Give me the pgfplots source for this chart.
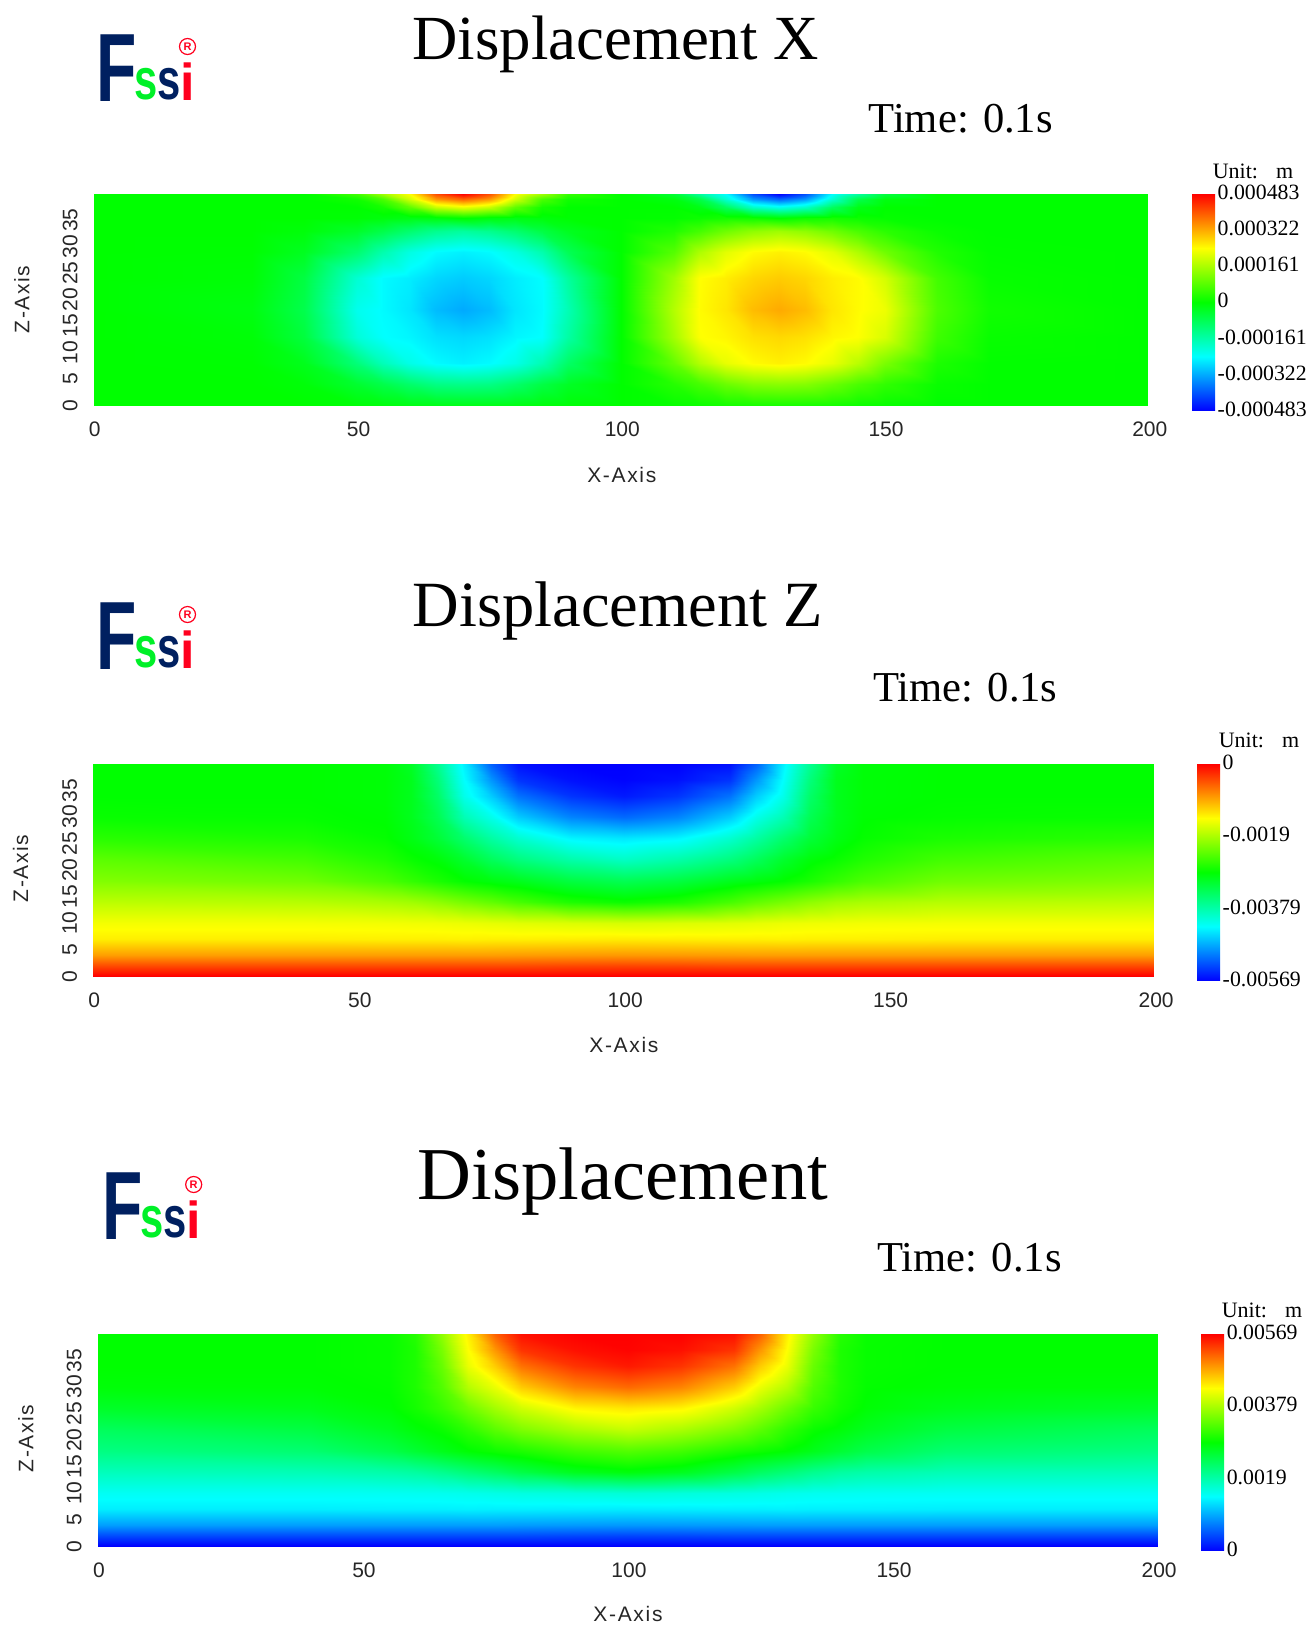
\documentclass[border=0pt]{standalone}
\usepackage{fontspec}
\usepackage{pgfplots}
\usepackage{pgfplotstable}
\pgfplotsset{compat=1.18}
\setmainfont{Liberation Serif}
\newfontfamily\sansf{Liberation Sans}
\newfontfamily\axisf[LetterSpace=8]{Liberation Sans}
\newfontfamily\logof{Liberation Sans}[BoldFont={Liberation Sans Bold}]
\definecolor{navy}{RGB}{0,32,96}
\definecolor{lgreen}{RGB}{0,240,40}
\definecolor{lred}{RGB}{255,0,30}
\pgfplotsset{
  colormap={fssi}{rgb255=(0,0,255) rgb255=(0,255,255) rgb255=(0,255,0) rgb255=(255,255,0) rgb255=(255,0,0)},
  panel/.style={
    scale only axis, xmin=0, xmax=200, ymin=0, ymax=40, view={0}{90},
    anchor=south west, axis line style={draw=none}, major tick length=0pt,
    xtick={0,50,100,150,200}, xticklabels={0,50,100,150,200},
    ytick={0,5,10,15,20,25,30,35}, yticklabels={0,5,10,15,20,25,30,35},
    tick label style={font=\fontsize{21}{24}\sansf, text=black!85, inner sep=0pt},
    xticklabel style={anchor=north, yshift=-16pt, xshift=1.5pt},
    yticklabel style={rotate=90, anchor=south, yshift=15.5pt},
    axis on top=false,
    colorbar right,
    colorbar/width=23pt,
  },
  bar/.style n args={2}{
    scale only axis, height=217pt,
    at={(parent axis.north east)}, anchor=north west, xshift=#1,
    axis line style={draw=none}, major tick length=0pt,
    tick label style={font=\fontsize{21.8}{24}\selectfont, text=black, inner sep=0pt},
    yticklabel style={anchor=west, xshift=2.5pt, yshift=1.5pt},
    #2
  },
}
% Horizontal displacement, micrometres (x, depth coordinate z, value)
\pgfplotstableread[row sep=\\]{
x z c\\
0 0 0\\ 30 0 0\\ 40 0 0\\ 50 0 -7\\ 55 0 -12\\ 60 0 -20\\ 65 0 -23\\ 70 0 -24\\ 75 0 -23\\ 80 0 -20\\ 85 0 -12\\ 90 0 -7\\ 100 0 0\\ 110 0 7\\ 115 0 12\\ 120 0 20\\ 125 0 23\\ 130 0 24\\ 135 0 23\\ 140 0 20\\ 145 0 12\\ 150 0 7\\ 160 0 0\\ 170 0 0\\ 200 0 0\\
0 4 0\\ 30 4 0\\ 40 4 -8\\ 50 4 -45\\ 55 4 -70\\ 60 4 -100\\ 65 4 -125\\ 70 4 -130\\ 75 4 -125\\ 80 4 -100\\ 85 4 -65\\ 90 4 -35\\ 100 4 0\\ 110 4 35\\ 115 4 65\\ 120 4 100\\ 125 4 125\\ 130 4 130\\ 135 4 125\\ 140 4 100\\ 145 4 70\\ 150 4 45\\ 160 4 8\\ 170 4 0\\ 200 4 0\\
0 8 0\\ 30 8 -2\\ 40 8 -26\\ 50 8 -115\\ 55 8 -175\\ 60 8 -220\\ 65 8 -245\\ 70 8 -255\\ 75 8 -245\\ 80 8 -220\\ 85 8 -170\\ 90 8 -95\\ 100 8 0\\ 110 8 95\\ 115 8 170\\ 120 8 220\\ 125 8 245\\ 130 8 255\\ 135 8 245\\ 140 8 220\\ 145 8 175\\ 150 8 115\\ 160 8 26\\ 170 8 2\\ 200 8 0\\
0 13 0\\ 30 13 -7\\ 40 13 -58\\ 50 13 -205\\ 55 13 -240\\ 60 13 -250\\ 65 13 -270\\ 70 13 -278\\ 75 13 -270\\ 80 13 -250\\ 85 13 -240\\ 90 13 -155\\ 100 13 0\\ 110 13 155\\ 115 13 240\\ 120 13 250\\ 125 13 270\\ 130 13 278\\ 135 13 270\\ 140 13 250\\ 145 13 240\\ 150 13 205\\ 160 13 58\\ 170 13 7\\ 200 13 0\\
0 18 0\\ 30 18 -15\\ 40 18 -72\\ 50 18 -225\\ 55 18 -245\\ 60 18 -265\\ 65 18 -305\\ 70 18 -322\\ 75 18 -305\\ 80 18 -265\\ 85 18 -245\\ 90 18 -170\\ 100 18 0\\ 110 18 170\\ 115 18 245\\ 120 18 265\\ 125 18 305\\ 130 18 322\\ 135 18 305\\ 140 18 265\\ 145 18 245\\ 150 18 225\\ 160 18 72\\ 170 18 15\\ 200 18 0\\
0 24 0\\ 30 24 -6\\ 40 24 -62\\ 50 24 -200\\ 55 24 -245\\ 60 24 -258\\ 65 24 -280\\ 70 24 -290\\ 75 24 -280\\ 80 24 -258\\ 85 24 -242\\ 90 24 -150\\ 100 24 0\\ 110 24 150\\ 115 24 242\\ 120 24 258\\ 125 24 280\\ 130 24 290\\ 135 24 280\\ 140 24 258\\ 145 24 245\\ 150 24 200\\ 160 24 62\\ 170 24 6\\ 200 24 0\\
0 29 0\\ 30 29 -2\\ 40 29 -30\\ 50 29 -105\\ 55 29 -165\\ 60 29 -215\\ 65 29 -245\\ 70 29 -255\\ 75 29 -245\\ 80 29 -215\\ 85 29 -165\\ 90 29 -80\\ 100 29 0\\ 110 29 80\\ 115 29 165\\ 120 29 215\\ 125 29 245\\ 130 29 255\\ 135 29 245\\ 140 29 215\\ 145 29 165\\ 150 29 105\\ 160 29 30\\ 170 29 2\\ 200 29 0\\
0 33 0\\ 30 33 0\\ 40 33 -9\\ 50 33 -40\\ 55 33 -70\\ 60 33 -105\\ 65 33 -135\\ 70 33 -150\\ 75 33 -135\\ 80 33 -105\\ 85 33 -65\\ 90 33 -30\\ 100 33 0\\ 110 33 30\\ 115 33 65\\ 120 33 105\\ 125 33 135\\ 130 33 150\\ 135 33 135\\ 140 33 105\\ 145 33 70\\ 150 33 40\\ 160 33 9\\ 170 33 0\\ 200 33 0\\
0 35.5 0\\ 30 35.5 0\\ 40 35.5 0\\ 50 35.5 -5\\ 55 35.5 -12\\ 60 35.5 -20\\ 65 35.5 -15\\ 70 35.5 0\\ 75 35.5 -15\\ 80 35.5 -20\\ 85 35.5 -12\\ 90 35.5 -3\\ 100 35.5 0\\ 110 35.5 3\\ 115 35.5 12\\ 120 35.5 20\\ 125 35.5 15\\ 130 35.5 0\\ 135 35.5 15\\ 140 35.5 20\\ 145 35.5 12\\ 150 35.5 5\\ 160 35.5 0\\ 170 35.5 0\\ 200 35.5 0\\
0 37.5 0\\ 30 37.5 0\\ 40 37.5 0\\ 50 37.5 0\\ 55 37.5 20\\ 60 37.5 90\\ 65 37.5 190\\ 70 37.5 225\\ 75 37.5 190\\ 80 37.5 90\\ 85 37.5 20\\ 90 37.5 0\\ 100 37.5 0\\ 110 37.5 0\\ 115 37.5 -20\\ 120 37.5 -90\\ 125 37.5 -190\\ 130 37.5 -225\\ 135 37.5 -190\\ 140 37.5 -90\\ 145 37.5 -20\\ 150 37.5 0\\ 160 37.5 0\\ 170 37.5 0\\ 200 37.5 0\\
0 39 0\\ 30 39 0\\ 40 39 0\\ 50 39 15\\ 55 39 70\\ 60 39 200\\ 65 39 340\\ 70 39 390\\ 75 39 340\\ 80 39 200\\ 85 39 70\\ 90 39 15\\ 100 39 0\\ 110 39 -15\\ 115 39 -70\\ 120 39 -200\\ 125 39 -340\\ 130 39 -390\\ 135 39 -340\\ 140 39 -200\\ 145 39 -70\\ 150 39 -15\\ 160 39 0\\ 170 39 0\\ 200 39 0\\
0 40 0\\ 30 40 0\\ 40 40 0\\ 50 40 60\\ 55 40 150\\ 60 40 242\\ 65 40 410\\ 70 40 483\\ 75 40 410\\ 80 40 242\\ 85 40 150\\ 90 40 50\\ 100 40 0\\ 110 40 -50\\ 115 40 -150\\ 120 40 -242\\ 125 40 -410\\ 130 40 -483\\ 135 40 -410\\ 140 40 -242\\ 145 40 -150\\ 150 40 -60\\ 160 40 0\\ 170 40 0\\ 200 40 0\\
}\tabX
% Vertical displacement and total displacement, micrometres
\pgfplotstableread[row sep=\\]{
x z uz u\\
0 0 0 0\\ 40 0 0 0\\ 55 0 0 0\\ 60 0 0 0\\ 65 0 0 0\\ 70 0 0 0\\ 75 0 0 0\\ 80 0 0 0\\ 90 0 0 0\\ 100 0 0 0\\ 110 0 0 0\\ 120 0 0 0\\ 125 0 0 0\\ 130 0 0 0\\ 135 0 0 0\\ 140 0 0 0\\ 145 0 0 0\\ 160 0 0 0\\ 200 0 0 0\\
0 2 -400 400\\ 40 2 -400 400\\ 55 2 -400 400\\ 60 2 -400 400\\ 65 2 -400 400\\ 70 2 -400 400\\ 75 2 -400 400\\ 80 2 -400 400\\ 90 2 -380 380\\ 100 2 -370 370\\ 110 2 -380 380\\ 120 2 -400 400\\ 125 2 -400 400\\ 130 2 -400 400\\ 135 2 -400 400\\ 140 2 -400 400\\ 145 2 -400 400\\ 160 2 -400 400\\ 200 2 -400 400\\
0 4 -880 880\\ 40 4 -880 880\\ 55 4 -880 880\\ 60 4 -880 880\\ 65 4 -880 880\\ 70 4 -880 880\\ 75 4 -880 880\\ 80 4 -870 870\\ 90 4 -860 860\\ 100 4 -850 850\\ 110 4 -860 860\\ 120 4 -870 870\\ 125 4 -880 880\\ 130 4 -880 880\\ 135 4 -880 880\\ 140 4 -880 880\\ 145 4 -880 880\\ 160 4 -880 880\\ 200 4 -880 880\\
0 7 -1330 1330\\ 40 7 -1330 1330\\ 55 7 -1340 1340\\ 60 7 -1340 1340\\ 65 7 -1340 1340\\ 70 7 -1350 1350\\ 75 7 -1340 1340\\ 80 7 -1340 1340\\ 90 7 -1330 1330\\ 100 7 -1320 1320\\ 110 7 -1330 1330\\ 120 7 -1340 1340\\ 125 7 -1340 1340\\ 130 7 -1350 1350\\ 135 7 -1340 1340\\ 140 7 -1340 1340\\ 145 7 -1340 1340\\ 160 7 -1330 1330\\ 200 7 -1330 1330\\
0 10 -1480 1480\\ 40 10 -1480 1480\\ 55 10 -1490 1490\\ 60 10 -1500 1500\\ 65 10 -1510 1510\\ 70 10 -1530 1530\\ 75 10 -1560 1560\\ 80 10 -1590 1590\\ 90 10 -1620 1620\\ 100 10 -1650 1650\\ 110 10 -1620 1620\\ 120 10 -1590 1590\\ 125 10 -1560 1560\\ 130 10 -1530 1530\\ 135 10 -1510 1510\\ 140 10 -1500 1500\\ 145 10 -1490 1490\\ 160 10 -1480 1480\\ 200 10 -1480 1480\\
0 14 -1800 1800\\ 40 14 -1830 1830\\ 55 14 -1900 1900\\ 60 14 -1950 1950\\ 65 14 -2050 2050\\ 70 14 -2180 2180\\ 75 14 -2300 2300\\ 80 14 -2450 2450\\ 90 14 -2680 2680\\ 100 14 -2780 2780\\ 110 14 -2680 2680\\ 120 14 -2450 2450\\ 125 14 -2300 2300\\ 130 14 -2180 2180\\ 135 14 -2050 2050\\ 140 14 -1950 1950\\ 145 14 -1900 1900\\ 160 14 -1830 1830\\ 200 14 -1800 1800\\
0 18 -2120 2120\\ 40 18 -2220 2220\\ 55 18 -2430 2430\\ 60 18 -2560 2560\\ 65 18 -2700 2700\\ 70 18 -2830 2830\\ 75 18 -2920 2920\\ 80 18 -3000 3000\\ 90 18 -3200 3200\\ 100 18 -3300 3300\\ 110 18 -3200 3200\\ 120 18 -3000 3000\\ 125 18 -2920 2920\\ 130 18 -2830 2830\\ 135 18 -2700 2700\\ 140 18 -2560 2560\\ 145 18 -2430 2430\\ 160 18 -2220 2220\\ 200 18 -2120 2120\\
0 22 -2340 2340\\ 40 22 -2480 2480\\ 55 22 -2680 2680\\ 60 22 -2800 2800\\ 65 22 -2900 2900\\ 70 22 -3100 3100\\ 75 22 -3350 3350\\ 80 22 -3550 3550\\ 90 22 -3800 3800\\ 100 22 -3950 3950\\ 110 22 -3800 3800\\ 120 22 -3550 3550\\ 125 22 -3350 3350\\ 130 22 -3100 3100\\ 135 22 -2900 2900\\ 140 22 -2800 2800\\ 145 22 -2680 2680\\ 160 22 -2480 2480\\ 200 22 -2340 2340\\
0 26 -2620 2620\\ 40 26 -2700 2700\\ 55 26 -2820 2820\\ 60 26 -2950 2950\\ 65 26 -3150 3150\\ 70 26 -3450 3450\\ 75 26 -3750 3750\\ 80 26 -4000 4000\\ 90 26 -4320 4320\\ 100 26 -4400 4400\\ 110 26 -4320 4320\\ 120 26 -4000 4000\\ 125 26 -3750 3750\\ 130 26 -3450 3450\\ 135 26 -3150 3150\\ 140 26 -2950 2950\\ 145 26 -2820 2820\\ 160 26 -2700 2700\\ 200 26 -2620 2620\\
0 30 -2800 2800\\ 40 30 -2820 2820\\ 55 30 -2860 2860\\ 60 30 -3000 3000\\ 65 30 -3300 3300\\ 70 30 -3850 3850\\ 75 30 -4150 4150\\ 80 30 -4550 4550\\ 90 30 -4950 4950\\ 100 30 -5100 5100\\ 110 30 -4950 4950\\ 120 30 -4550 4550\\ 125 30 -4150 4150\\ 130 30 -3850 3850\\ 135 30 -3300 3300\\ 140 30 -3000 3000\\ 145 30 -2860 2860\\ 160 30 -2820 2820\\ 200 30 -2800 2800\\
0 34 -2845 2845\\ 40 34 -2845 2845\\ 55 34 -2880 2880\\ 60 34 -3000 3000\\ 65 34 -3420 3420\\ 70 34 -4150 4150\\ 75 34 -4550 4550\\ 80 34 -5050 5050\\ 90 34 -5400 5400\\ 100 34 -5550 5550\\ 110 34 -5400 5400\\ 120 34 -5050 5050\\ 125 34 -4550 4550\\ 130 34 -4150 4150\\ 135 34 -3420 3420\\ 140 34 -3000 3000\\ 145 34 -2880 2880\\ 160 34 -2845 2845\\ 200 34 -2845 2845\\
0 37 -2845 2845\\ 40 37 -2845 2845\\ 55 37 -2880 2880\\ 60 37 -3000 3000\\ 65 37 -3520 3520\\ 70 37 -4260 4260\\ 75 37 -4850 4850\\ 80 37 -5400 5400\\ 90 37 -5600 5600\\ 100 37 -5670 5670\\ 110 37 -5600 5600\\ 120 37 -5400 5400\\ 125 37 -4850 4850\\ 130 37 -4260 4260\\ 135 37 -3520 3520\\ 140 37 -3000 3000\\ 145 37 -2880 2880\\ 160 37 -2845 2845\\ 200 37 -2845 2845\\
0 40 -2845 2845\\ 40 40 -2845 2845\\ 55 40 -2890 2890\\ 60 40 -3050 3050\\ 65 40 -3650 3650\\ 70 40 -4350 4350\\ 75 40 -5150 5150\\ 80 40 -5600 5600\\ 90 40 -5690 5690\\ 100 40 -5690 5690\\ 110 40 -5690 5690\\ 120 40 -5600 5600\\ 125 40 -5150 5150\\ 130 40 -4350 4350\\ 135 40 -3650 3650\\ 140 40 -3050 3050\\ 145 40 -2890 2890\\ 160 40 -2845 2845\\ 200 40 -2845 2845\\
}\tabZ
\newcommand{\fssilogo}[2]{%
  \begin{scope}[shift={(#1pt,-#2pt)}]
    \node[anchor=south west, inner sep=0pt, xscale=.68, text=navy] at (-3pt,-1pt) {\fontsize{97}{97}\logof\bfseries F};
    \node[anchor=south west, inner sep=0pt, xscale=.72, text=lgreen] at (35pt,0pt) {\fontsize{58}{58}\logof\bfseries s};
    \node[anchor=south west, inner sep=0pt, xscale=.72, text=navy] at (58pt,0pt) {\fontsize{58}{58}\logof\bfseries s};
    \node[anchor=south west, inner sep=0pt, text=lred] at (81pt,0pt) {\fontsize{52}{52}\logof\bfseries i};
    \draw[lred, line width=1.2pt] (88pt,54pt) circle (8pt);
    \node[text=lred, inner sep=0pt] at (88pt,54pt) {\fontsize{11}{11}\logof\bfseries R};
  \end{scope}}
\begin{document}
\begin{tikzpicture}
\path[use as bounding box] (0pt,0pt) rectangle (1309pt,-1625pt);
% ---------- Displacement X
\begin{axis}[panel, at={(93.3pt,-405.2pt)}, width=1055pt, height=211.4pt,
  point meta min=-483, point meta max=483,
  colorbar style={bar={35.2pt}{ytick={-483,-322,-161,0,161,322,483},
    yticklabels={-0.000483,-0.000322,-0.000161,0,0.000161,0.000322,0.000483}}}]
\addplot3[surf, shader=interp, mesh/cols=25] table[x=x,y=z,z=c] {\tabX};
\end{axis}
% ---------- Displacement Z
\begin{axis}[panel, at={(92.8pt,-976.3pt)}, width=1061.8pt, height=212.5pt,
  point meta min=-5690, point meta max=0,
  colorbar style={bar={33.9pt}{ytick={-5690,-3793,-1897,0},
    yticklabels={-0.00569,-0.00379,-0.0019,0}}}]
\addplot3[surf, shader=interp, mesh/cols=19] table[x=x,y=z,z=uz] {\tabZ};
\end{axis}
% ---------- Displacement
\begin{axis}[panel, at={(97.4pt,-1546.3pt)}, width=1060.2pt, height=212.5pt,
  point meta min=0, point meta max=5690,
  colorbar style={bar={34.9pt}{ytick={0,1897,3793,5690},
    yticklabels={0,0.0019,0.00379,0.00569}}}]
\addplot3[surf, shader=interp, mesh/cols=19] table[x=x,y=z,z=u] {\tabZ};
\end{axis}
% ---------- Titles
\node[anchor=base, inner sep=0pt] at (615.6pt,-59pt) {\fontsize{62.8}{70}\selectfont Displacement X};
\node[anchor=base, inner sep=0pt] at (617.7pt,-626pt) {\fontsize{64.5}{70}\selectfont Displacement Z};
\node[anchor=base, inner sep=0pt] at (622.9pt,-1199pt) {\fontsize{74.6}{80}\selectfont Displacement};
\node[anchor=base, inner sep=0pt] at (960.7pt,-132.7pt) {\fontsize{42.6}{48}\selectfont Time: 0.1s};
\node[anchor=base, inner sep=0pt] at (965.4pt,-701.6pt) {\fontsize{42.6}{48}\selectfont Time: 0.1s};
\node[anchor=base, inner sep=0pt] at (969.5pt,-1271.7pt) {\fontsize{42.6}{48}\selectfont Time: 0.1s};
\node[anchor=base, inner sep=0pt] at (1253pt,-178pt) {\fontsize{22}{24}\selectfont Unit:\hspace{18pt}m};
\node[anchor=base, inner sep=0pt] at (1259pt,-747pt) {\fontsize{22}{24}\selectfont Unit:\hspace{18pt}m};
\node[anchor=base, inner sep=0pt] at (1262pt,-1317pt) {\fontsize{22}{24}\selectfont Unit:\hspace{18pt}m};
% ---------- Axis names
\node[inner sep=0pt, text=black!85] at (621.8pt,-474.7pt) {\fontsize{21}{24}\axisf X-Axis};
\node[inner sep=0pt, text=black!85] at (623.9pt,-1044.7pt) {\fontsize{21}{24}\axisf X-Axis};
\node[inner sep=0pt, text=black!85] at (628pt,-1613.7pt) {\fontsize{21}{24}\axisf X-Axis};
\node[inner sep=0pt, text=black!85, rotate=90] at (21.8pt,-299.5pt) {\fontsize{21}{24}\axisf Z-Axis};
\node[inner sep=0pt, text=black!85, rotate=90] at (20.7pt,-868.5pt) {\fontsize{21}{24}\axisf Z-Axis};
\node[inner sep=0pt, text=black!85, rotate=90] at (25.9pt,-1438.5pt) {\fontsize{21}{24}\axisf Z-Axis};
% ---------- Logos
\fssilogo{99.5}{100.5}
\fssilogo{99.5}{668.5}
\fssilogo{105.7}{1238.5}
\end{tikzpicture}
\end{document}
